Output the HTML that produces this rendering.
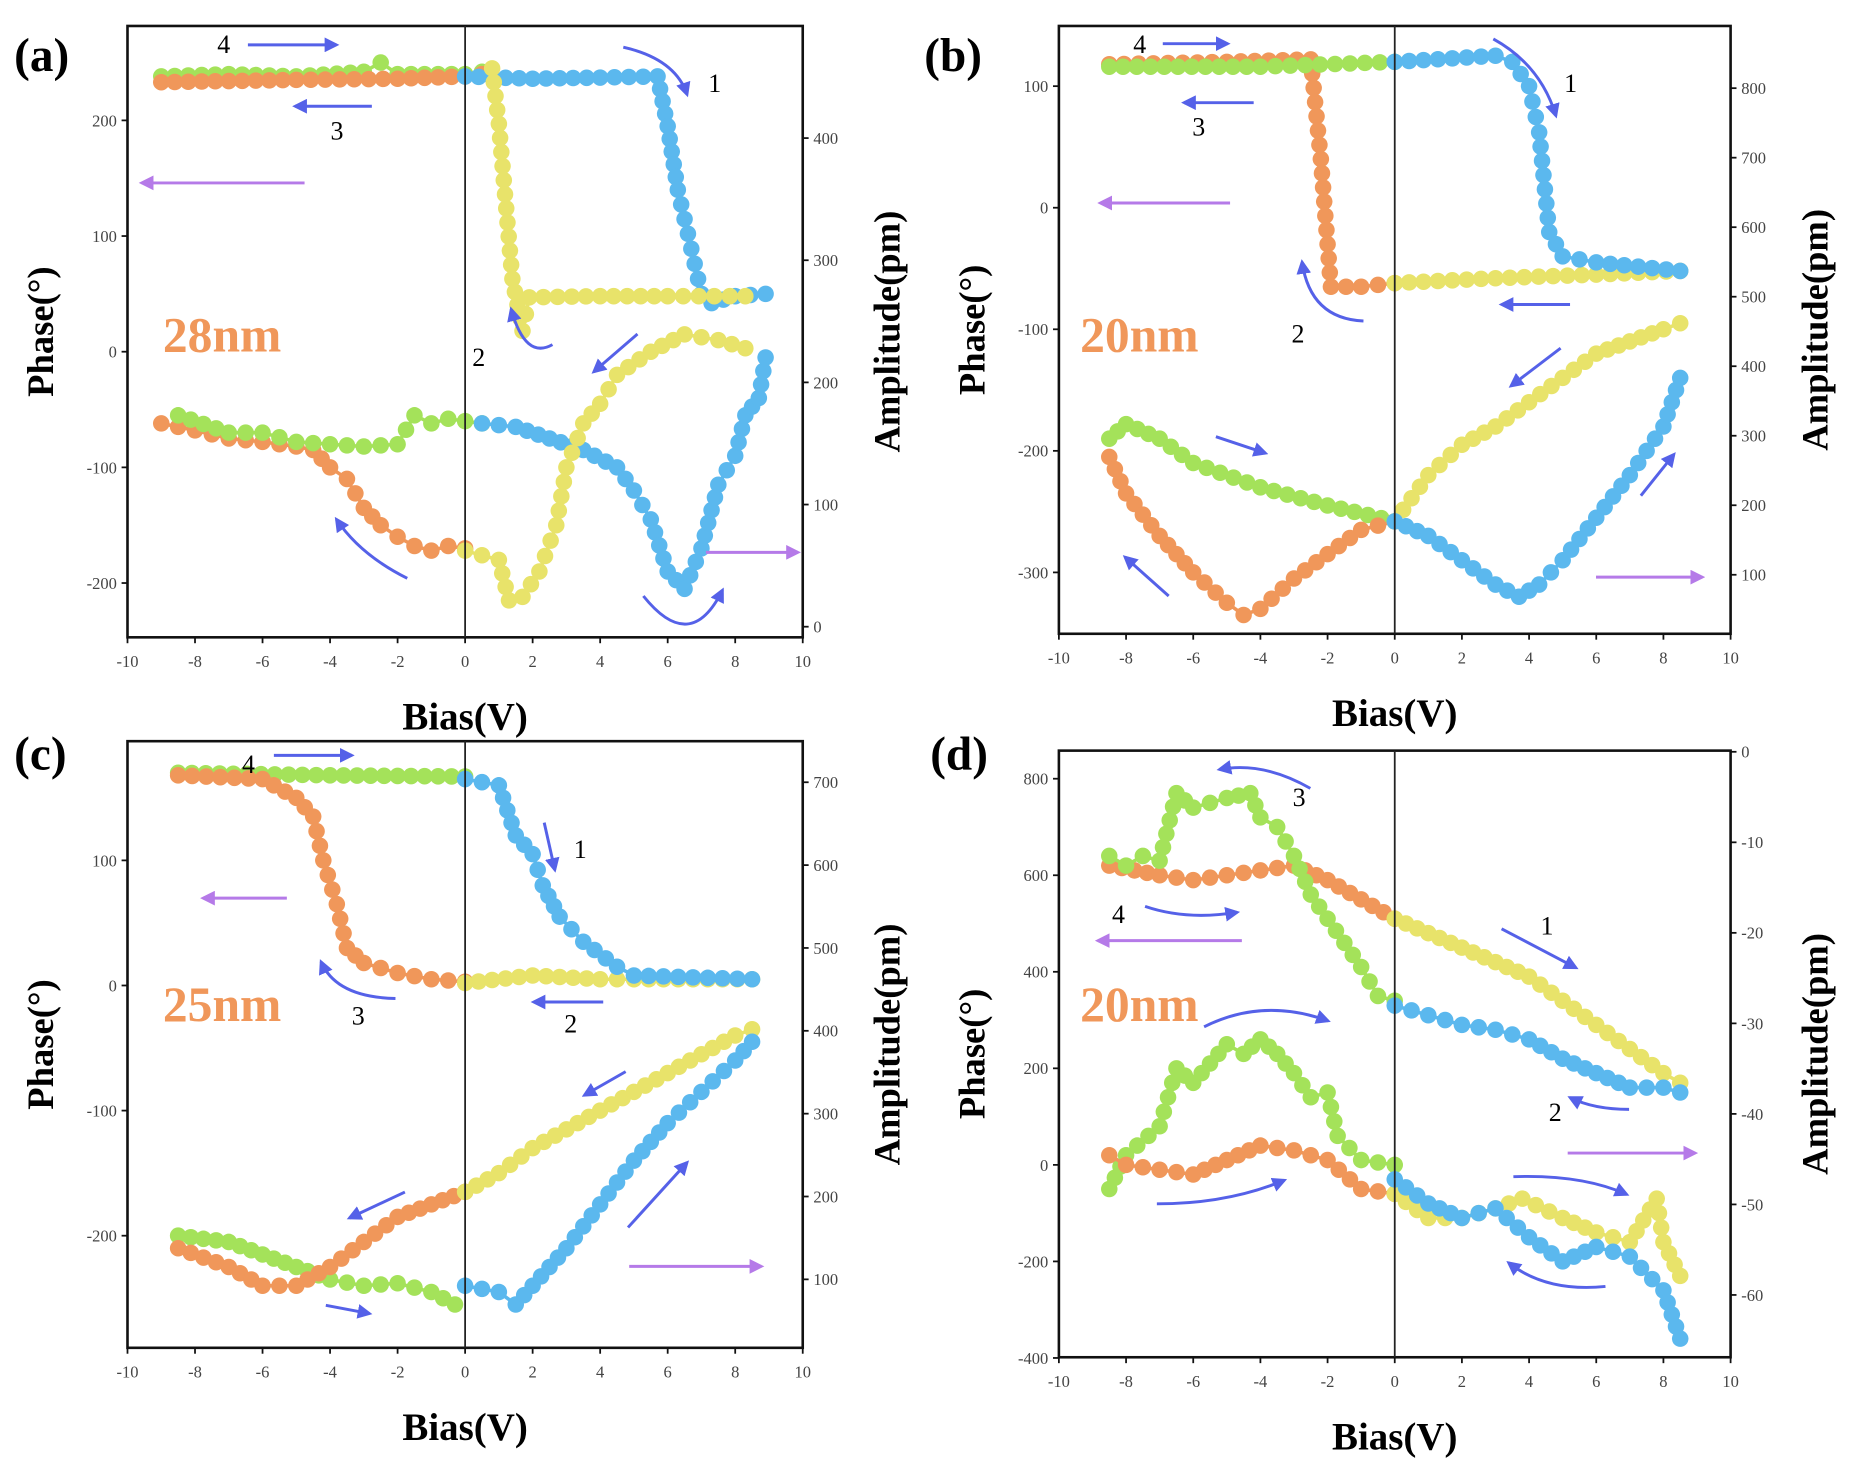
<!DOCTYPE html>
<html><head><meta charset="utf-8">
<style>
html,body{margin:0;padding:0;background:#fff;}
svg{display:block;}
text{font-family:"Liberation Serif",serif;}
</style></head>
<body>
<svg id="s" xmlns="http://www.w3.org/2000/svg" width="1851" height="1480" viewBox="0 0 1568 1254" preserveAspectRatio="none">
<defs>
<marker id="mb" viewBox="0 0 10 10" refX="8" refY="5" markerWidth="5" markerHeight="5" orient="auto"><path d="M0,0 L10,5 L0,10 z" fill="#5561e8"/></marker>
<marker id="mp" viewBox="0 0 10 10" refX="8" refY="5" markerWidth="5" markerHeight="5" orient="auto"><path d="M0,0 L10,5 L0,10 z" fill="#b57ae8"/></marker>
</defs>
</svg>
<script>
const S=document.getElementById('s');const NS='http://www.w3.org/2000/svg';
function el(t,a,txt){const e=document.createElementNS(NS,t);for(const k in a)e.setAttribute(k,a[k]);if(txt!==undefined)e.textContent=txt;S.appendChild(e);return e;}
const C={o:'#f0975a',b:'#5bb8ee',y:'#e8e36a',g:'#a4e25a'};
const P=[
{x0:108,x1:680,top:22,bot:540,yf:v=>298-0.98*v,lt:[200,100,0,-100,-200],rf:v=>531-1.035*v,rt:[0,100,200,300,400],
 s:[['g',[[-9,238],[-7,240],[-5,238],[-3,242],[-2.5,250],[-2,240],[0,240],[0.5,242]]],
    ['o',[[-9,233],[-5,235],[-2,236],[0,238],[0.5,240]]],
    ['b',[[0,238],[2,236],[4,237],[5.7,238],[6,195],[6.3,140],[6.6,102],[7,50],[7.3,42],[8,48],[8.9,50]]],
    ['y',[[0.8,245],[1.0,197],[1.4,63],[1.7,18],[1.9,47],[4,48],[6,48],[8.3,48]]],
    ['o',[[-9,-62],[-8,-68],[-7,-75],[-6,-78],[-5,-82],[-4.5,-85],[-4,-100],[-3.5,-110],[-3,-135],[-2.5,-150],[-2,-160],[-1.5,-168],[-1,-172],[-0.5,-168],[0,-170]]],
    ['g',[[-8.5,-55],[-7,-70],[-6,-70],[-5,-78],[-4,-80],[-3,-82],[-2,-80],[-1.5,-55],[-1,-62],[-0.5,-58],[0.5,-62]]],
    ['b',[[0.5,-62],[1.5,-65],[2.5,-75],[3.5,-85],[4.5,-100],[5,-120],[5.5,-145],[6,-190],[6.5,-205],[7,-170],[7.5,-115],[8,-90],[8.3,-55],[8.7,-40],[8.9,-5]]],
    ['y',[[0,-172],[1,-180],[1.3,-215],[1.7,-212],[2.2,-190],[2.7,-150],[3,-100],[3.5,-62],[4,-45],[4.5,-20],[5.5,0],[6.5,15],[7.5,10],[8.3,3]]]]},
{x0:897,x1:1466,top:22,bot:537,yf:v=>176-1.03*v,lt:[100,0,-100,-200,-300],rf:v=>487-0.589*(v-100),rt:[100,200,300,400,500,600,700,800],
 s:[['o',[[-8.5,118],[-5,120],[-2.5,122],[-2.2,40],[-1.9,-65],[-1,-65],[0,-62]]],
    ['g',[[-8.5,116],[-4,116],[0,120]]],
    ['y',[[0,-62],[3,-58],[6,-55],[8.5,-52]]],
    ['b',[[0,120],[3,125],[3.5,120],[4,100],[4.3,62],[4.6,-20],[5,-40],[6,-45],[8.5,-52]]],
    ['g',[[-8.5,-190],[-8,-178],[-7,-190],[-6,-210],[-4,-230],[-2,-245],[0,-258]]],
    ['o',[[-8.5,-205],[-8,-235],[-7,-270],[-6,-300],[-5,-325],[-4.5,-335],[-4,-330],[-3,-305],[-2,-285],[-1,-265],[0,-258]]],
    ['y',[[0,-258],[1,-220],[2,-195],[3,-180],[4,-160],[5,-140],[6,-120],[7,-110],[8,-100],[8.5,-95]]],
    ['b',[[0,-258],[1,-270],[2,-290],[3,-310],[3.7,-320],[4.3,-310],[5,-290],[6,-255],[7,-220],[8,-180],[8.5,-140]]]]},
{x0:108,x1:680,top:628,bot:1142,yf:v=>835-1.06*v,lt:[100,0,-100,-200],rf:v=>1084-0.702*(v-100),rt:[100,200,300,400,500,600,700],
 s:[['g',[[-8.5,170],[-4,168],[0,167]]],
    ['o',[[-8.5,168],[-6,165],[-5,150],[-4.5,135],[-4.2,100],[-3.8,65],[-3.5,30],[-3,18],[-2,10],[-1,5],[0,3]]],
    ['y',[[0,2],[2,8],[4,5],[5,5],[8.5,5]]],
    ['b',[[0,165],[1,160],[1.5,120],[2,105],[2.3,80],[2.8,55],[3.5,35],[4.5,15],[5,8],[8.5,5]]],
    ['g',[[-8.5,-200],[-7,-205],[-6,-215],[-5,-225],[-4,-235],[-3,-240],[-2,-238],[-1,-245],[-0.3,-255]]],
    ['o',[[-8.5,-210],[-7,-225],[-6,-240],[-5,-240],[-4,-225],[-3,-205],[-2,-185],[-1,-175],[0,-165]]],
    ['y',[[0,-165],[1,-150],[2,-130],[3,-115],[4,-100],[5,-85],[6,-70],[7,-55],[8,-40],[8.5,-35]]],
    ['b',[[0,-240],[1,-245],[1.5,-255],[2,-240],[3,-210],[4,-175],[5,-140],[6,-110],[7,-85],[8,-60],[8.5,-45]]]]},
{x0:897,x1:1466,top:636,bot:1150,yf:v=>987-0.409*v,lt:[800,600,400,200,0,-200,-400],rf:v=>637-7.67*v,rt:[0,-10,-20,-30,-40,-50,-60],
 s:[['o',[[-8.5,620],[-7,600],[-6,590],[-5,600],[-4,610],[-3,620],[-2,590],[-1,550],[0,510]]],
    ['g',[[-8.5,640],[-8,620],[-7.5,640],[-7,630],[-6.5,770],[-6,740],[-5,760],[-4.3,770],[-4,720],[-3.5,700],[-3,640],[-2.5,560],[-2,510],[-1.5,460],[-1,410],[-0.5,350],[0,340]]],
    ['y',[[0,510],[1,480],[2,450],[3,420],[4,390],[5,340],[6,290],[7,240],[8,190],[8.5,170]]],
    ['b',[[0,330],[1,310],[2,290],[3,280],[4,260],[5,220],[6,190],[7,160],[8,160],[8.5,150]]],
    ['g',[[-8.5,-50],[-8,20],[-7,80],[-6.5,200],[-6,170],[-5,250],[-4.5,230],[-4,260],[-3.5,230],[-3,190],[-2.5,140],[-2,150],[-1.7,60],[-1,10],[0,0]]],
    ['o',[[-8.5,20],[-8,0],[-7,-10],[-6,-20],[-5,10],[-4,40],[-3,30],[-2,10],[-1,-50],[0,-60]]],
    ['y',[[0,-60],[1,-110],[2,-110],[3,-90],[3.8,-70],[5,-110],[6,-140],[7,-160],[7.8,-70],[8,-160],[8.5,-230]]],
    ['b',[[0,-30],[1,-80],[2,-110],[3,-90],[4,-150],[5,-200],[6,-170],[7,-190],[8,-260],[8.5,-360]]]]}
];
P.forEach(p=>{
 const xf=v=>p.x0+(v+10)/20*(p.x1-p.x0);
 p.s.forEach(([c,pts])=>{
  const sc=pts.map(q=>[xf(q[0]),p.yf(q[1])]);
  el('polyline',{points:sc.map(q=>q.join(',')).join(' '),fill:'none',stroke:C[c],'stroke-width':3});
  for(let i=0;i<sc.length-1;i++){const [ax,ay]=sc[i],[bx,by]=sc[i+1];const d=Math.hypot(bx-ax,by-ay);const n=Math.max(1,Math.round(d/12));
   for(let k=0;k<n;k++){const t=k/n;el('circle',{cx:ax+(bx-ax)*t,cy:ay+(by-ay)*t,r:7,fill:C[c]});}}
  const l=sc[sc.length-1];el('circle',{cx:l[0],cy:l[1],r:7,fill:C[c]});
 });
 el('rect',{x:p.x0,y:p.top,width:p.x1-p.x0,height:p.bot-p.top,fill:'none',stroke:'#111','stroke-width':2.2});
 el('line',{x1:xf(0),x2:xf(0),y1:p.top,y2:p.bot,stroke:'#222','stroke-width':1.5});
 for(let v=-10;v<=10;v+=2){const x=xf(v);el('line',{x1:x,x2:x,y1:p.bot,y2:p.bot+5,stroke:'#111','stroke-width':1.5});
  el('text',{x:x,y:p.bot+25,'font-size':14,'text-anchor':'middle',fill:'#444'},v);}
 p.lt.forEach(v=>{const y=p.yf(v);el('line',{x1:p.x0-5,x2:p.x0,y1:y,y2:y,stroke:'#111','stroke-width':1.5});
  el('text',{x:p.x0-9,y:y+5,'font-size':14,'text-anchor':'end',fill:'#444'},v);});
 p.rt.forEach(v=>{const y=p.rf(v);el('line',{x1:p.x1,x2:p.x1+5,y1:y,y2:y,stroke:'#111','stroke-width':1.5});
  el('text',{x:p.x1+9,y:y+5,'font-size':14,fill:'#444'},v);});
 const cy=(p.top+p.bot)/2;
 el('text',{x:0,y:0,'font-size':31,'font-weight':'bold','text-anchor':'middle',transform:`translate(${p.x0-63},${cy}) rotate(-90)`},'Phase(°)');
 el('text',{x:0,y:0,'font-size':31,'font-weight':'bold','text-anchor':'middle',transform:`translate(${p.x1+82},${cy}) rotate(-90)`},'Amplitude(pm)');
 el('text',{x:xf(0),y:p.bot+78,'font-size':33,'font-weight':'bold','text-anchor':'middle'},'Bias(V)');
});
function T(x,y,t,o){el('text',Object.assign({x:x,y:y,'font-size':22,'font-family':'Liberation Sans, sans-serif'},o||{}),t);}
function A(x1,y1,x2,y2,c){const p=c==='p';el('line',{x1,y1,x2,y2,stroke:p?'#b57ae8':'#5561e8','stroke-width':2.5,'marker-end':p?'url(#mp)':'url(#mb)'});}
function Q(x1,y1,cx,cy,x2,y2){el('path',{d:`M${x1},${y1} Q${cx},${cy} ${x2},${y2}`,fill:'none',stroke:'#5561e8','stroke-width':2.5,'marker-end':'url(#mb)'});}
function L(x,y,t){el('text',{x,y,'font-size':40,'font-weight':'bold'},t);}
function N(x,y,t){el('text',{x,y,'font-size':42,'font-weight':'bold',fill:'#f0975a'},t);}
L(12,60,'(a)');N(138,298,'28nm');
T(184,45,'4');A(210,38,285,38);T(280,118,'3');A(315,90,250,90);A(258,155,120,155,'p');
T(600,78,'1');Q(528,40,572,50,582,80);T(400,310,'2');Q(468,292,445,305,433,262);
A(540,283,503,315);Q(345,490,305,470,285,440);A(598,468,676,468,'p');Q(545,505,585,555,612,500);
L(783,60,'(b)');N(915,298,'20nm');
T(960,45,'4');A(985,37,1040,37);T(1010,115,'3');A(1062,87,1003,87);A(1042,172,932,172,'p');
T(1325,78,'1');Q(1265,33,1305,55,1318,98);T(1094,290,'2');Q(1155,272,1110,270,1103,222);
A(1330,258,1272,258);A(1322,295,1280,327);A(1030,370,1072,384);A(990,505,953,472);A(1352,489,1442,489,'p');A(1390,420,1418,385);
L(12,652,'(c)');N(138,865,'25nm');
T(205,655,'4');A(232,640,298,640);T(486,727,'1');A(461,697,470,737);A(243,761,172,761,'p');
T(298,868,'3');Q(335,846,285,845,272,815);T(478,875,'2');A(511,849,452,849);
A(530,908,495,928);A(343,1010,296,1032);A(532,1040,582,985);A(276,1106,313,1113);A(533,1073,645,1073,'p');
L(788,652,'(d)');N(915,865,'20nm');
T(1095,683,'3');Q(1110,668,1070,645,1033,652);T(942,782,'4');Q(970,768,1005,780,1048,773);A(1052,797,930,797,'p');
T(1305,792,'1');A(1272,787,1335,820);T(1312,950,'2');Q(1380,940,1350,940,1330,930);A(1328,977,1436,977,'p');
Q(1020,870,1070,845,1125,865);Q(980,1020,1040,1020,1088,1000);Q(1282,997,1340,995,1378,1012);Q(1360,1090,1310,1095,1278,1070);
</script>
</body></html>
